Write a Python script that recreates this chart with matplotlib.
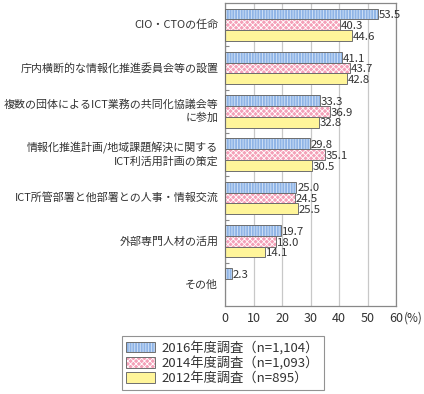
import matplotlib
matplotlib.use("Agg")
import matplotlib.pyplot as plt
import matplotlib.patches as mpatches
import matplotlib.transforms as mtransforms
from matplotlib.legend_handler import HandlerTuple
import numpy as np

plt.rcParams['font.family'] = ['Noto Sans CJK JP', 'DejaVu Sans']
plt.rcParams['hatch.linewidth'] = 0.6

categories = [
    "CIO・CTOの任命",
    "庁内横断的な情報化推進委員会等の設置",
    "複数の団体によるICT業務の共同化協議会等\nに参加",
    "情報化推進計画/地域課題解決に関する\nICT利活用計画の策定",
    "ICT所管部署と他部署との人事・情報交流",
    "外部専門人材の活用",
    "その他",
]
v2016 = [53.5, 41.1, 33.3, 29.8, 25.0, 19.7, 2.3]
v2014 = [40.3, 43.7, 36.9, 35.1, 24.5, 18.0, None]
v2012 = [44.6, 42.8, 32.8, 30.5, 25.5, 14.1, None]
series_labels = ["2016年度調査（n=1,104）", "2014年度調査（n=1,093）", "2012年度調査（n=895）"]

colors = ["#8fb4e6", "#f4a0b8", "#fff59a"]
hatch_colors = ["#d6e5f8", "#ffffff", "#fff59a"]
hatches = ["||||||", "xxxxxx", None]
edge = "#6e6e6e"

fig = plt.figure(figsize=(4.24, 3.94), dpi=100)
ax = fig.add_axes([0.531, 0.223, 0.403, 0.769])

y = np.arange(len(categories))
h = 0.25
offsets = [-h, 0, h]
handles = []
for vals, off, col, hcol, hat in zip([v2016, v2014, v2012], offsets, colors, hatch_colors, hatches):
    for i, v in enumerate(vals):
        if v is None:
            continue
        ax.barh(y[i] + off, v, height=h, color=col, hatch=hat, edgecolor=hcol, linewidth=0, zorder=2)
        ax.barh(y[i] + off, v, height=h, fill=False, edgecolor=edge, linewidth=0.7, zorder=3)
        ax.text(v + 0.3, y[i] + off + 0.03, f"{v:.1f}", va="center", ha="left", fontsize=8.2,
                color="#333333", zorder=4)
    p1 = mpatches.Patch(facecolor=col, hatch=hat, edgecolor=hcol, linewidth=0)
    p2 = mpatches.Patch(fill=False, edgecolor=edge, linewidth=0.7)
    handles.append((p1, p2))

ax.set_xlim(0, 60)
ax.set_ylim(len(categories) - 0.5, -0.5)
ax.set_xticks(np.arange(0, 61, 10))
ax.tick_params(axis="x", length=0, labelsize=9, colors="#333333", pad=4)
ax.annotate("(%)", xy=(60, 0), xycoords=ax.get_xaxis_transform(), xytext=(6, -4),
            textcoords="offset points", va="top", ha="left", fontsize=8.5, color="#333333")

# group separators as inward ticks, category names as text (one text per line, right aligned)
ax.set_yticks(y[:-1] + 0.5)
ax.set_yticklabels([])
ax.tick_params(axis="y", which="major", direction="in", length=3, color="#888888", width=0.8)
trans = mtransforms.blended_transform_factory(ax.transAxes, ax.transData)
for i, cat in enumerate(categories):
    lines = cat.split("\n")
    n = len(lines)
    for k, line in enumerate(lines):
        ax.text(-0.04, y[i] + (k - (n - 1) / 2) * 0.3, line, transform=trans, ha="right", va="center",
                fontsize=7.9, color="#333333")

ax.xaxis.grid(True, color="#c8c8c8", linewidth=0.9, zorder=0)
ax.set_axisbelow(True)
for s in ax.spines.values():
    s.set_color("#888888")
    s.set_linewidth(0.9)

leg = fig.legend(handles, series_labels, handler_map={tuple: HandlerTuple(ndivide=1, pad=0)},
                 loc="upper left", bbox_to_anchor=(115 / 424, 1 - 329 / 394),
                 fontsize=9.5, frameon=True, fancybox=False, edgecolor="#777777",
                 handlelength=2.2, handleheight=0.8, handletextpad=0.5, labelspacing=0.15,
                 borderpad=0.35, labelcolor="#333333")
leg.get_frame().set_linewidth(0.8)

fig.savefig("out.png", dpi=100)
